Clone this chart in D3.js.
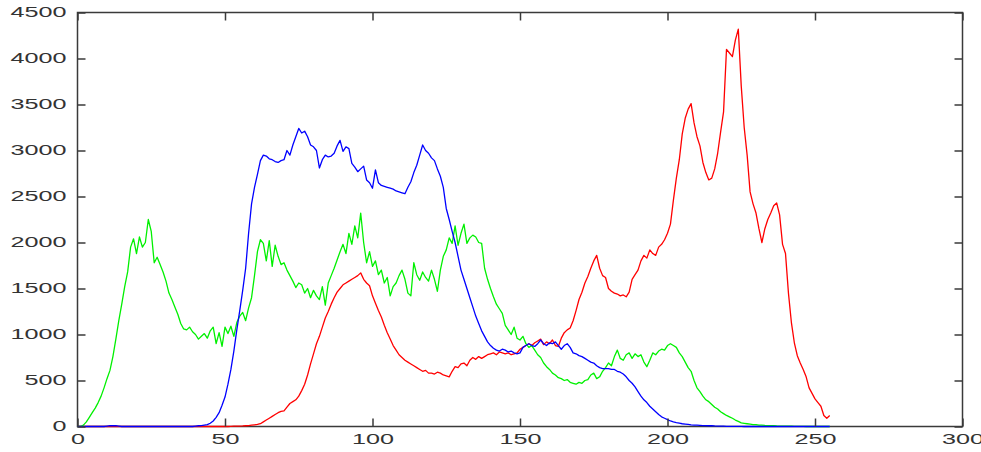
<!DOCTYPE html>
<html>
<head>
<meta charset="utf-8">
<script src="https://cdn.jsdelivr.net/npm/d3@7"></script>
<style>
  body { margin: 0; background: #fff; }
  svg { display: block; }
</style>
</head>
<body>
<div id="chart"></div>
<script>
// histogram counts per intensity bin (0..255)
const redCounts = [
  0,0,0,0,0,0,0,0,0,0, 0,0,0,0,0,0,0,0,0,0,
  0,0,0,0,0,0,0,0,0,0, 0,0,0,0,0,0,0,0,0,0,
  0,0,0,0,0,0,0,0,0,0, 0,0,2,3,4,5,6,8,10,14,
  18,22,30,50,70,90,110,130,150,165, 170,210,250,270,290,330,390,460,560,680,
  790,900,980,1080,1180,1250,1330,1400,1460,1500, 1540,1560,1580,1600,1620,1640,1670,1600,1560,1530,
  1420,1340,1260,1190,1100,1020,950,880,830,780, 750,720,700,680,660,640,620,600,610,580,
  580,570,590,580,560,550,540,600,650,640, 680,690,660,720,750,730,760,740,760,780,
  790,800,780,810,800,790,800,780,790,800, 840,860,880,900,880,910,930,950,890,920,
  900,940,880,870,960,1020,1050,1070,1150,1260, 1380,1460,1560,1630,1720,1800,1860,1720,1640,1620,
  1500,1470,1450,1440,1420,1430,1410,1460,1600,1650, 1700,1800,1860,1830,1920,1880,1860,1950,1980,2030,
  2100,2200,2460,2700,2900,3180,3350,3450,3510,3300, 3150,3050,2870,2760,2680,2700,2800,2970,3200,3420,
  4100,4060,4020,4200,4320,3700,3250,2950,2550,2420, 2320,2150,2000,2150,2250,2320,2400,2430,2300,1980,
  1880,1450,1130,910,770,690,620,540,420,360, 300,260,220,120,90,120
];

const greenCounts = [
  0,0,15,50,100,150,200,260,330,420, 520,610,760,950,1150,1330,1520,1680,1950,2040,
  1880,2060,1950,2000,2250,2120,1780,1840,1760,1680, 1580,1450,1380,1300,1220,1120,1060,1050,1080,1030,
  1000,950,980,1010,960,1040,1080,900,1020,870, 1080,1010,1090,980,1130,1200,1240,1150,1290,1400,
  1640,1900,2030,1990,1800,2020,1740,1970,1850,1760, 1780,1700,1640,1580,1510,1560,1540,1450,1500,1400,
  1480,1420,1380,1520,1320,1560,1640,1720,1810,1900, 1980,1880,2100,1980,2180,2050,2320,2000,1780,1900,
  1740,1800,1650,1700,1560,1620,1420,1520,1560,1640, 1700,1600,1450,1420,1780,1650,1590,1680,1620,1580,
  1700,1600,1470,1700,1850,1920,2050,1990,2180,1970, 2100,2200,1990,2050,2080,2060,2000,1990,1720,1600,
  1500,1410,1330,1280,1230,1100,1050,1000,1080,960, 940,980,900,860,880,830,780,750,690,650,
  620,580,560,530,520,500,510,480,470,460, 480,470,500,510,560,580,520,540,600,640,
  690,660,760,830,740,720,780,800,740,790, 760,780,700,650,720,800,780,820,840,830,
  880,900,880,860,800,760,700,640,600,500, 420,380,330,290,270,240,210,190,160,140,
  120,105,90,70,55,40,35,30,25,20, 20,15,15,12,10,10,8,6,5,5,
  4,3,3,2,2,1,1,0,0,0, 0,0,0,0,0,0
];

const blueCounts = [
  0,0,0,0,0,0,0,0,0,0, 5,10,8,10,5,0,0,0,0,0,
  0,0,0,0,0,0,0,0,0,0, 0,0,0,0,0,0,0,0,0,0,
  5,8,10,15,20,35,60,100,150,230, 320,460,620,820,1050,1260,1480,1720,2100,2420,
  2600,2740,2890,2950,2940,2910,2900,2880,2870,2890, 2900,3000,2950,3060,3150,3240,3190,3210,3150,3060,
  3040,3000,2810,2900,2950,2930,2940,2970,3050,3110, 2990,3040,3020,2860,2820,2770,2800,2830,2680,2650,
  2590,2790,2650,2620,2610,2600,2590,2580,2560,2550, 2540,2530,2600,2660,2760,2840,2950,3060,3000,2970,
  2920,2890,2800,2720,2600,2370,2250,2120,2000,1850, 1700,1600,1500,1400,1300,1200,1120,1040,980,920,
  880,850,830,820,840,830,810,820,800,790, 800,860,880,900,880,870,900,940,900,880,
  910,900,920,880,840,880,900,860,800,790, 770,760,740,720,700,690,660,640,630,630,
  630,620,620,600,590,570,540,500,470,430, 380,330,290,260,220,190,160,130,105,90,
  75,60,50,42,36,30,26,22,18,15, 14,12,10,10,8,8,6,5,4,3,
  2,2,2,1,1,1,0,0,0,0, 0,0,0,0,0,0,0,0,0,0,
  0,0,0,0,0,0,0,0,0,0, 0,0,0,0,0,0
];

const xTicks = [0, 50, 100, 150, 200, 250, 300];
const yTicks = [0, 500, 1000, 1500, 2000, 2500, 3000, 3500, 4000, 4500];

const width = 981;
const height = 452;
const margin = {top: 12.5, right: 18.5, bottom: 25.5, left: 77.5};
const charWidth = 14;

const svg = d3.select("#chart")
    .append("svg")
    .attr("width", width)
    .attr("height", height)
    .attr("viewBox", [0, 0, width, height]);

const x = d3.scaleLinear([0, 300], [margin.left, width - margin.right]);
const y = d3.scaleLinear([0, 4500], [height - margin.bottom, margin.top]);

// plot box
svg.append("rect")
    .attr("x", x(0))
    .attr("y", y(4500))
    .attr("width", x(300) - x(0))
    .attr("height", y(0) - y(4500))
    .attr("fill", "none")
    .attr("stroke", "#3a3a3a")
    .attr("stroke-width", 1.5);

// histogram lines, drawn red, green, then blue on top
const line = d3.line()
    .x((d, i) => x(i))
    .y(d => y(d));

const series = [
  {counts: redCounts, color: "#ff0000"},
  {counts: greenCounts, color: "#00f000"},
  {counts: blueCounts, color: "#0000ff"}
];

svg.append("g")
    .attr("fill", "none")
    .attr("stroke-width", 1.3)
    .attr("stroke-linejoin", "round")
    .selectAll("path")
    .data(series)
    .join("path")
    .attr("stroke", d => d.color)
    .attr("d", d => line(d.counts));

// axes, ticks pointing inwards on all four sides
function styleAxis(g) {
  g.select(".domain").remove();
  g.selectAll(".tick line").attr("stroke", "#3a3a3a").attr("stroke-width", 1.5);
  g.selectAll(".tick text")
      .attr("fill", "#333")
      .attr("font-family", "Liberation Sans, Arial, sans-serif")
      .attr("font-size", 14)
      .attr("textLength", function() { return this.textContent.length * charWidth; })
      .attr("lengthAdjust", "spacingAndGlyphs");
}

const fmt = d3.format("d");

svg.append("g")
    .attr("transform", `translate(0,${y(0)})`)
    .call(d3.axisBottom(x).tickValues(xTicks).tickFormat(fmt).tickSizeInner(-8).tickSizeOuter(0).tickPadding(8))
    .call(styleAxis);

svg.append("g")
    .attr("transform", `translate(${x(0)},0)`)
    .call(d3.axisLeft(y).tickValues(yTicks).tickFormat(fmt).tickSizeInner(-8).tickSizeOuter(0).tickPadding(11))
    .call(styleAxis);

svg.append("g")
    .attr("transform", `translate(0,${y(4500)})`)
    .call(d3.axisTop(x).tickValues(xTicks).tickSizeInner(-8).tickSizeOuter(0).tickFormat(""))
    .call(styleAxis);

svg.append("g")
    .attr("transform", `translate(${x(300)},0)`)
    .call(d3.axisRight(y).tickValues(yTicks).tickSizeInner(-8).tickSizeOuter(0).tickFormat(""))
    .call(styleAxis);
</script>
</body>
</html>
